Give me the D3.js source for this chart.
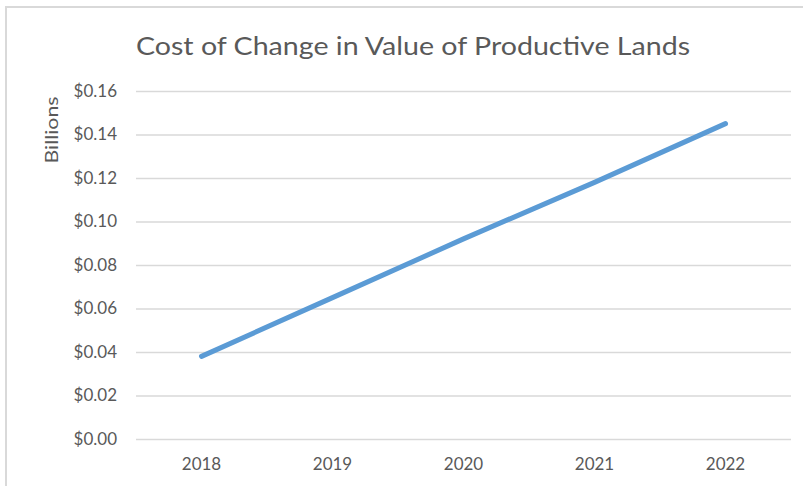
<!DOCTYPE html>
<html lang="en">
<head>
<meta charset="UTF-8">
<script src="https://cdn.jsdelivr.net/npm/d3@7/dist/d3.min.js"></script>
<title>Cost of Change in Value of Productive Lands</title>
<style>
  * { margin: 0; padding: 0; box-sizing: border-box; }
  body, html { width: 803px; height: 486px; background: #fff; overflow: hidden; }
  text { font-family: Lato, "Open Sans", sans-serif; fill: #595959; }
</style>
</head>
<body>
<svg id="chart" width="803" height="486"></svg>
<script>
  var years = ['2018', '2019', '2020', '2021', '2022'];
  var costs = [0.038, 0.065, 0.092, 0.118, 0.145];
  var yTicks = [0, 0.02, 0.04, 0.06, 0.08, 0.10, 0.12, 0.14, 0.16];

  var svg = d3.select('#chart');
  var plot = { left: 136, right: 791, top: 91, bottom: 439 };

  // chart frame (only top and left edges visible in the crop)
  svg.append('path')
    .attr('d', 'M6,486 V7 H803')
    .attr('fill', 'none')
    .attr('stroke', '#d9d9d9')
    .attr('stroke-width', 2);

  var x = d3.scaleBand().domain(years).range([plot.left, plot.right]);
  var y = d3.scaleLinear().domain([0, 0.16]).range([plot.bottom, plot.top]);

  var yAxis = svg.append('g')
    .attr('transform', 'translate(' + plot.left + ',0)')
    .call(d3.axisLeft(y).tickValues(yTicks)
      .tickSize(-(plot.right - plot.left))
      .tickPadding(19)
      .tickFormat(function (d) { return '$' + d.toFixed(2); }));
  yAxis.select('.domain').remove();
  yAxis.selectAll('line').attr('stroke', '#d9d9d9').attr('stroke-width', 1.5);
  yAxis.selectAll('text').attr('font-size', 17).attr('fill', '#595959')
    .attr('font-family', 'Lato, sans-serif');

  var xAxis = svg.append('g')
    .attr('transform', 'translate(0,' + plot.bottom + ')')
    .call(d3.axisBottom(x).tickSize(0).tickPadding(19));
  xAxis.select('.domain').remove();
  xAxis.selectAll('text').attr('font-size', 17).attr('fill', '#595959')
    .attr('font-family', 'Lato, sans-serif');

  var line = d3.line()
    .x(function (d, i) { return x(years[i]) + x.bandwidth() / 2; })
    .y(function (d) { return y(d); });

  svg.append('path')
    .datum(costs)
    .attr('d', line)
    .attr('fill', 'none')
    .attr('stroke', '#5b9bd5')
    .attr('stroke-width', 5)
    .attr('stroke-linecap', 'round')
    .attr('stroke-linejoin', 'round');

  svg.append('text')
    .attr('x', 413)
    .attr('y', 55)
    .attr('text-anchor', 'middle')
    .attr('font-size', 25)
    .attr('textLength', 554)
    .attr('lengthAdjust', 'spacingAndGlyphs')
    .text('Cost of Change in Value of Productive Lands');

  svg.append('text')
    .attr('transform', 'translate(58,130) rotate(-90)')
    .attr('text-anchor', 'middle')
    .attr('font-size', 18)
    .attr('textLength', 67)
    .attr('lengthAdjust', 'spacingAndGlyphs')
    .text('Billions');
</script>
</body>
</html>
